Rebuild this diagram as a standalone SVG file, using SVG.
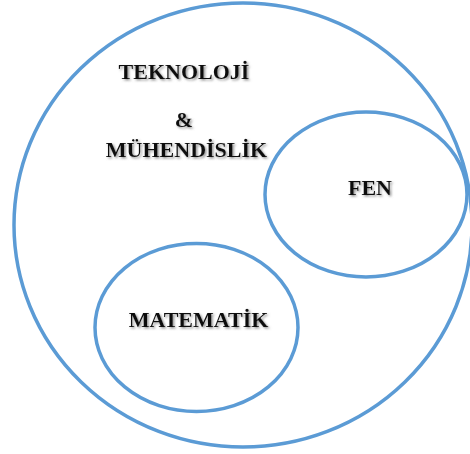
<svg xmlns="http://www.w3.org/2000/svg" width="470" height="454" viewBox="0 0 470 454">
<defs>
<style>
.ring{fill:none;stroke:#5B9BD5;stroke-width:3.5}
.lbl{font-family:"Liberation Serif","Times New Roman",serif;font-weight:bold;font-size:22px;fill:#111;text-anchor:middle;filter:url(#sh)}
</style>
<filter id="sh" x="-10%" y="-30%" width="130%" height="170%">
<feDropShadow dx="1.5" dy="1.5" stdDeviation="0.8" flood-color="#777" flood-opacity="0.8"/>
</filter>
</defs>
<rect width="470" height="454" fill="#fff"/>
<g id="outer">
<ellipse class="ring" cx="243" cy="225" rx="229" ry="222"/>
<text class="lbl" x="184" y="79">TEKNOLOJİ</text>
<text class="lbl" x="184" y="127">&amp;</text>
<text class="lbl" x="186.5" y="157">MÜHENDİSLİK</text>
</g>
<g id="fen">
<ellipse class="ring" cx="366" cy="194.5" rx="101" ry="82.5"/>
<text class="lbl" x="370" y="195">FEN</text>
</g>
<g id="matematik">
<ellipse class="ring" cx="196.5" cy="327.5" rx="101.5" ry="84"/>
<text class="lbl" x="198.5" y="327">MATEMATİK</text>
</g>
<g id="connectors"/>
</svg>
